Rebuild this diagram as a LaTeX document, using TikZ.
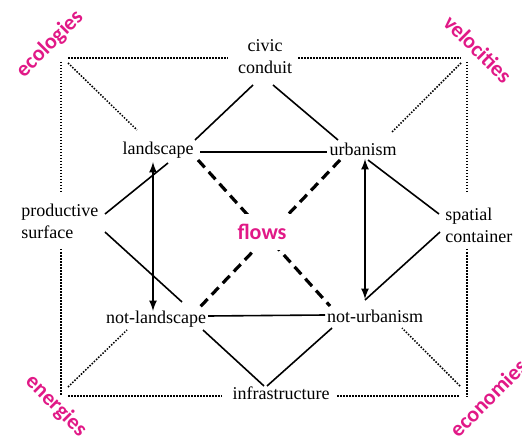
\documentclass[tikz,border=0pt]{standalone}
\usepackage{fontspec}
\setmainfont{Liberation Serif}
\newfontfamily\cornerfont{Carlito}
\usetikzlibrary{calc}
\definecolor{flowpink}{RGB}{225,25,135}
\tikzset{
  lbl/.style={inner sep=0pt, font=\fontsize{9}{11}\selectfont},
  corner/.style={inner sep=0pt, text=flowpink, font=\cornerfont\bfseries\fontsize{11}{13}\selectfont},
  link/.style={line width=0.8pt},
  dotline/.style={line width=0.75pt, dash pattern=on 0.75pt off 0.75pt},
  flowline/.style={line width=1.6pt, dash pattern=on 5pt off 3pt},
}
\begin{document}
\begin{tikzpicture}[>=latex, x=0.5pt, y=-0.5pt]
    \useasboundingbox (0,0) rectangle (522,437);
    % 1. Terms
    \node[lbl, align=center] (cc) at (265,57) {civic\\conduit};
    \node[lbl] (ls) at (158,150) {landscape};
    \node[lbl] (ub) at (363,149) {urbanism};
    \node[lbl, align=left, anchor=west] (ps) at (21,221) {productive\\surface};
    \node[lbl, align=left, anchor=west] (sc) at (445,225) {spatial\\container};
    \node[lbl] (nl) at (156,319) {not-landscape};
    \node[lbl] (nu) at (375,316) {not-urbanism};
    \node[lbl] (inf) at (281,393) {infrastructure};

    % 2. Corners
    \coordinate (tl) at (62,58);
    \coordinate (tr) at (467,58);
    \coordinate (bl) at (62,396);
    \coordinate (br) at (467,396);
    \node[corner, rotate=45] (eco) at (50,44) {ecologies};
    \node[corner, rotate=-45] (vel) at (478,49) {velocities};
    \node[corner, rotate=-45] (ene) at (56,406) {energies};
    \node[corner, rotate=45] (econ) at (488,398) {economies};

    % 3. Dotted frame
    \draw[dotline] ($(tl)+(6,0)$) -- ($(cc)+(-37,1)$);
    \draw[dotline] ($(cc)+(33,1)$) -- ($(tr)+(-6,0)$);
    \draw[dotline] ($(bl)+(6,0)$) -- ($(inf)+(-59,3)$);
    \draw[dotline] ($(inf)+(56,3)$) -- ($(br)+(-7,0)$);
    \draw[dotline] ($(tl)+(-1,4)$) -- ($(ps.west)+(40,-29)$);
    \draw[dotline] ($(ps.west)+(40,28)$) -- ($(bl)+(-1,-1)$);
    \draw[dotline] ($(tr)+(0,4)$) -- ($(sc.west)+(22,-32)$);
    \draw[dotline] ($(sc.west)+(22,24)$) -- ($(br)+(0,1)$);
    \draw[dotline] ($(tl)+(6,5)$) -- ($(ls)+(-21,-20)$);
    \draw[dotline] ($(tr)+(-6,5)$) -- ($(ub)+(29,-17)$);
    \draw[dotline] ($(bl)+(6,-9)$) -- ($(nl)+(-29,11)$);
    \draw[dotline] ($(br)+(-7,-10)$) -- ($(nu)+(27,12)$);

    % 4. Solid links
    \draw[link] ($(cc)+(-12,28)$) -- ($(ls)+(37,-10)$);
    \draw[link] ($(cc)+(8,28)$) -- ($(ub)+(-25,-9)$);
    \draw[link] ($(ls)+(42,2)$) -- ($(ub)+(-36,3)$);
    \draw[link] ($(ps.west)+(84,-7)$) -- ($(ls)+(10,13)$);
    \draw[link] ($(ps.west)+(84,11)$) -- ($(nl)+(26,-17)$);
    \draw[link] ($(nl)+(52,-3)$) -- ($(nu)+(-50,-1)$);
    \draw[link] ($(nl)+(47,11)$) -- ($(inf)+(-17,-7)$);
    \draw[link] ($(nu)+(-43,12)$) -- ($(inf)+(-14,-7)$);
    \draw[link] ($(ub)+(5,11)$) -- ($(sc.west)+(-6,-11)$);
    \draw[link] ($(sc.west)+(-5,7)$) -- ($(nu)+(-10,-16)$);

    % 5. Arrows
    \draw[link, <->] ($(ls)+(-5,12)$) -- ($(nl)+(-3,-8)$);
    \draw[link, <->] ($(ub)+(2,10)$) -- ($(nu)+(-10,-17)$);

    % 6. Flows
    \draw[flowline] ($(ls)+(40,10)$) -- ($(nu)+(-45,-10)$);
    \draw[flowline] ($(ub)+(-23,11)$) -- ($(nl)+(44,-12)$);
    \node[corner, fill=white, inner xsep=2pt, inner ysep=5pt] (fl) at (262,232) {flows};
\end{tikzpicture}
\end{document}
